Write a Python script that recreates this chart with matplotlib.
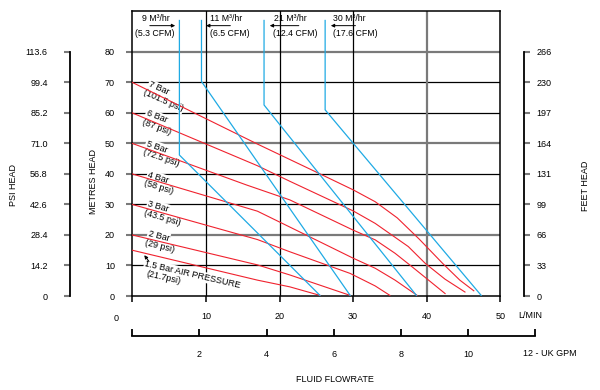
import matplotlib.pyplot as plt

plt.rcParams['font.family'] = ['Liberation Sans', 'DejaVu Sans']
plt.rcParams['font.size'] = 6.5

# pressure curves: flow (L/min) vs head (metres)
bar7_q = [0, 17, 25, 30, 33, 36, 39, 42.2, 44.5, 46.4]
bar7_h = [70, 49.8, 40.6, 34.8, 30.9, 25.6, 18.6, 10.6, 5.2, 1.7]
bar6_q = [0, 17, 21.4, 30, 33, 37.5, 39.8, 42.5, 45.2]
bar6_h = [60, 42.7, 37.6, 27.9, 23.8, 16.2, 10.7, 5.5, 1.3]
bar5_q = [0, 15.5, 21.4, 30, 33, 35.7, 38, 42.5]
bar5_h = [50, 36.4, 31.5, 21.6, 18.4, 14, 9.6, 0.8]
bar4_q = [0, 17, 21.4, 30, 33, 35.7, 38.7]
bar4_h = [40, 27.8, 22.6, 12.4, 9.1, 5.2, 0.2]
bar3_q = [0, 17, 21.4, 29.6, 33, 35]
bar3_h = [30, 18.5, 14.5, 7.4, 3.3, 0.2]
bar2_q = [0, 17, 21.4, 29.6]
bar2_h = [20, 10.2, 6.9, 0.2]
bar15_q = [0, 17, 21.4, 25.5]
bar15_h = [15, 5.2, 3.0, 0.2]

# air consumption lines
air9_q = [6.4, 6.4, 25.5]
air9_h = [90.3, 46.2, 0.2]
air11_q = [9.4, 9.4, 29.6]
air11_h = [90.3, 70.3, 0.2]
air21_q = [17.9, 17.9, 38.6]
air21_h = [90.3, 62.6, 0.2]
air30_q = [26.2, 26.2, 47.4]
air30_h = [90.3, 61.0, 0.2]

metre_ticks = [0, 10, 20, 30, 40, 50, 60, 70, 80]
psi_labels = ['0', '14.2', '28.4', '42.6', '56.8', '71.0', '85.2', '99.4', '113.6']
feet_labels = ['0', '33', '66', '99', '131', '164', '197', '230', '266']
lmin_ticks = [0, 10, 20, 30, 40, 50]
gpm_ticks = [0, 2, 4, 6, 8, 10, 12]

RED = '#f0222e'
BLUE = '#1faae4'
GREY = '#7a7a7a'
W, H = 600, 390


def box(l, t, r, b):
    return [l / W, 1 - b / H, (r - l) / W, (b - t) / H]


fig = plt.figure(figsize=(6, 3.9), dpi=100)
ax = fig.add_axes(box(132.3, 10.7, 500.3, 296))
ax.set_xlim(0, 50)
ax.set_ylim(0, 93.5)

for y in metre_ticks[1:]:
    if y in (20, 50, 80):
        ax.axhline(y, color=GREY, lw=1.6, zorder=1)
    else:
        ax.axhline(y, color='black', lw=0.9, zorder=1)
for x in [10, 20, 30]:
    ax.axvline(x, color='black', lw=0.9, zorder=1)
ax.axvline(40, color=GREY, lw=1.6, zorder=1)

for q, h in [(bar7_q, bar7_h), (bar6_q, bar6_h), (bar5_q, bar5_h), (bar4_q, bar4_h),
             (bar3_q, bar3_h), (bar2_q, bar2_h), (bar15_q, bar15_h)]:
    ax.plot(q, h, color=RED, lw=0.8, zorder=4)
for q, h in [(air9_q, air9_h), (air11_q, air11_h), (air21_q, air21_h), (air30_q, air30_h)]:
    ax.plot(q, h, color=BLUE, lw=0.9, zorder=4)

for s in ax.spines.values():
    s.set_linewidth(1.1)
ax.set_yticks(metre_ticks)
ax.set_yticklabels([str(v) for v in metre_ticks])
ax.tick_params(axis='y', length=4, width=1.5, color=GREY, pad=8.5)
ax.set_xticks(lmin_ticks)
ax.set_xticklabels([''] + [str(v) for v in lmin_ticks[1:]])
ax.tick_params(axis='x', length=4.5, width=1.1, pad=7)
ax.text(-2.2, -7.4, '0', ha='center', va='center')
ax.text(52.4, -6.4, 'L/MIN', ha='left', va='center')

# pressure labels
white = dict(facecolor='white', edgecolor='none', pad=0.6)
bar_labels = [
    ('7 Bar', 3.6, 68.0, -24), ('(101.5 psi)', 4.2, 63.9, -24),
    ('6 Bar', 3.3, 58.7, -21), ('(87 psi)', 3.25, 55.2, -21),
    ('5 Bar', 3.3, 48.9, -19), ('(72.5 psi)', 3.9, 45.4, -19),
    ('4 Bar', 3.5, 38.7, -17), ('(58 psi)', 3.6, 35.7, -17),
    ('3 Bar', 3.5, 29.2, -16), ('(43.5 psi)', 4.1, 25.7, -16),
    ('2 Bar', 3.6, 19.7, -14), ('(29 psi)', 3.7, 16.4, -14),
    ('1.5 Bar AIR PRESSURE', 8.2, 7.0, -13), ('(21.7psi)', 4.3, 5.9, -13),
]
for txt, x, y, rot in bar_labels:
    ax.text(x, y, txt, rotation=rot, ha='center', va='center', zorder=3,
            bbox=white, rotation_mode='anchor')
ax.annotate('', xy=(1.4, 14.1), xytext=(2.5, 10.6),
            arrowprops=dict(arrowstyle='-|>', color='black', lw=0.7, mutation_scale=5),
            zorder=5)

# air consumption labels
air_labels = [
    ('9 M³/hr', '(5.3 CFM)', 1.3, 0.4, (6.2, 2.0)),
    ('11 M³/hr', '(6.5 CFM)', 10.6, 10.6, (9.65, 13.7)),
    ('21 M³/hr', '(12.4 CFM)', 19.2, 19.1, (18.3, 23.0)),
    ('30 M³/hr', '(17.6 CFM)', 27.3, 27.3, (26.6, 30.7)),
]
for top, bottom, x1, x2, (head, tail) in air_labels:
    ax.text(x1, 90.9, top, ha='left', va='center', fontsize=6.3)
    ax.text(x2, 85.9, bottom, ha='left', va='center', fontsize=6.3)
    ax.annotate('', xy=(head, 88.6), xytext=(tail, 88.6),
                arrowprops=dict(arrowstyle='-|>', color='black', lw=0.7, mutation_scale=5))

# psi axis
ax_psi = fig.add_axes(box(70, 10.7, 71, 296))
ax_psi.set_ylim(0, 93.5)
ax_psi.set_xticks([])
for k in ['top', 'right', 'bottom']:
    ax_psi.spines[k].set_visible(False)
ax_psi.patch.set_alpha(0)
ax_psi.spines['left'].set_bounds(0, 80)
ax_psi.spines['left'].set_linewidth(1.3)
ax_psi.set_yticks(metre_ticks)
ax_psi.set_yticklabels(psi_labels)
ax_psi.tick_params(axis='y', length=4.5, width=1.5, color=GREY, pad=11.5)

# feet axis
ax_ft = fig.add_axes(box(523, 10.7, 524, 296))
ax_ft.set_ylim(0, 93.5)
ax_ft.set_xticks([])
for k in ['top', 'left', 'bottom']:
    ax_ft.spines[k].set_visible(False)
ax_ft.patch.set_alpha(0)
ax_ft.spines['right'].set_bounds(0, 80)
ax_ft.spines['right'].set_linewidth(1.3)
ax_ft.yaxis.tick_right()
ax_ft.set_yticks(metre_ticks)
ax_ft.set_yticklabels(feet_labels)
ax_ft.tick_params(axis='y', length=4.5, width=1.5, color=GREY, pad=4.5)

# uk gpm axis
ax_gpm = fig.add_axes(box(132.3, 335, 535, 336))
ax_gpm.set_xlim(0, 12)
ax_gpm.set_yticks([])
for k in ['top', 'left', 'right']:
    ax_gpm.spines[k].set_visible(False)
ax_gpm.patch.set_alpha(0)
ax_gpm.spines['bottom'].set_linewidth(1.3)
ax_gpm.set_xticks(gpm_ticks)
ax_gpm.set_xticklabels(['', '2', '4', '6', '8', '10', ''])
ax_gpm.tick_params(axis='x', direction='in', length=5, width=1.3, pad=10)
fig.text(550 / W, 1 - 354 / H, '12 - UK GPM', ha='center', va='center')

fig.text(14 / W, 1 - 185 / H, 'PSI HEAD', rotation=90, ha='center', va='center')
fig.text(93 / W, 1 - 182 / H, 'METRES HEAD', rotation=90, ha='center', va='center')
fig.text(585 / W, 1 - 186 / H, 'FEET HEAD', rotation=90, ha='center', va='center')
fig.text(335 / W, 1 - 379 / H, 'FLUID FLOWRATE', ha='center', va='center')

fig.savefig('out.png', dpi=100)
